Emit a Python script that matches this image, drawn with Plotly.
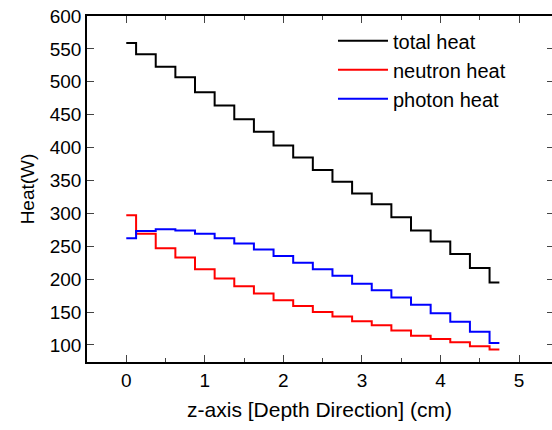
import plotly.graph_objs as go

# depth positions (cm) and heat values (W)
z = [0, 0.25, 0.5, 0.75, 1.0, 1.25, 1.5, 1.75, 2.0, 2.25,
     2.5, 2.75, 3.0, 3.25, 3.5, 3.75, 4.0, 4.25, 4.5, 4.75]

total_heat = [559, 542, 523, 507, 484, 464, 443, 424, 403, 385,
              366, 348, 330, 314, 294, 274, 257, 238, 217, 195]
neutron_heat = [297, 269, 247, 233, 215, 201, 189, 178, 168, 159,
                150, 143, 136, 130, 122, 114, 109, 104, 98, 93]
photon_heat = [262, 273, 276, 274, 269, 262, 254, 245, 235, 225,
               215, 205, 193, 183, 172, 161, 148, 135, 120, 103]

font = "Arial, Liberation Sans, sans-serif"

fig = go.Figure()
fig.add_trace(go.Scatter(x=z, y=total_heat, name='total heat', mode='lines',
                         line=dict(color='black', width=2, shape='hvh')))
fig.add_trace(go.Scatter(x=z, y=neutron_heat, name='neutron heat', mode='lines',
                         line=dict(color='#ff0000', width=2, shape='hvh')))
fig.add_trace(go.Scatter(x=z, y=photon_heat, name='photon heat', mode='lines',
                         line=dict(color='#0000ff', width=2, shape='hvh')))
# invisible trace just to carry the right-hand ticks
fig.add_trace(go.Scatter(x=[z[0]], y=[total_heat[0]], yaxis='y2', mode='lines',
                         showlegend=False, hoverinfo='skip', opacity=0))

fig.update_layout(
    width=552, height=430,
    margin=dict(l=87, r=0, t=16, b=68),
    paper_bgcolor='white', plot_bgcolor='white',
    font=dict(family=font, size=19, color='black'),
    xaxis=dict(title=dict(text='z-axis [Depth Direction] (cm)', font=dict(size=21), standoff=13),
               range=[-0.5, 5.42], dtick=1, tick0=0, ticks='inside', ticklen=7, tickwidth=1,
               minor=dict(dtick=0.5, ticks='inside', ticklen=4, tickwidth=1),
               showline=True, linecolor='black', linewidth=1.5, mirror='ticks',
               showgrid=False, zeroline=False),
    yaxis=dict(title=dict(text='Heat(W)', font=dict(size=19), standoff=10),
               range=[74, 600], dtick=50, tick0=100, ticks='inside', ticklen=7, tickwidth=1,
               showline=True, linecolor='black', linewidth=1.5,
               showgrid=False, zeroline=False),
    yaxis2=dict(overlaying='y', side='right', range=[74, 600], dtick=50, tick0=100,
                ticks='inside', ticklen=5, tickwidth=1, showticklabels=False,
                showline=False, showgrid=False, zeroline=False),
    legend=dict(x=0.529, y=0.985, xanchor='left', yanchor='top', itemwidth=50,
                font=dict(size=20), bgcolor='rgba(0,0,0,0)', tracegroupgap=0),
    showlegend=True,
)

fig.write_html("out.html", config={'displayModeBar': False},
               post_script="document.body.style.margin='0';")
